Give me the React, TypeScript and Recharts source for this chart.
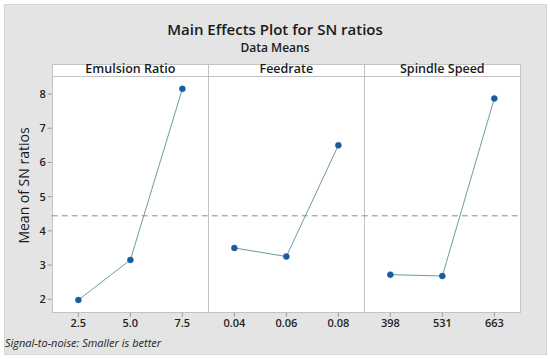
import { LineChart, Line, XAxis, YAxis, ReferenceLine } from "recharts"

const panels = ["Emulsion Ratio", "Feedrate", "Spindle Speed"]
const tickLabels = ["2.5", "5.0", "7.5", "0.04", "0.06", "0.08", "398", "531", "663"]
const emulsionRatio = [1.98, 3.15, 8.15]
const feedrate = [3.5, 3.25, 6.5]
const spindleSpeed = [2.72, 2.68, 7.87]
const overallMean = 4.44
const yTicks = [2, 3, 4, 5, 6, 7, 8]

const series = [emulsionRatio, feedrate, spindleSpeed].map((vals, p) =>
  vals.map((v, i) => ({ x: p * 3 + i, v }))
)

const W = 550
const H = 359
const plotLeft = 51.7
const plotRight = 521
const stripTop = 64
const plotTop = 75.7
const plotBottom = 312.7
const xDomain: [number, number] = [-0.513, 8.513]
const unit = (plotRight - plotLeft) / (xDomain[1] - xDomain[0])
const xPix = (x: number) => plotLeft + (x - xDomain[0]) * unit

const font = "'Open Sans', 'Noto Sans', sans-serif"
const frame = "#c3c3c3"
const pointColor = "#1b5c9e"
const lineColor = "#6f9aa3"

export default function App() {
  return (
    <div style={{ position: "fixed", left: 0, top: 0, width: W, height: H, background: "#fff", fontFamily: font }}>
      <div style={{ position: "absolute", left: 4, top: 4, width: 541, height: 349, background: "#e4e4e4", border: "1px solid #d6d6d6" }} />
      <div style={{ position: "absolute", left: 0, width: W, top: 21, lineHeight: "17px", textAlign: "center", fontSize: 15, fontWeight: 600, color: "#1a1a1a" }}>
        Main Effects Plot for SN ratios
      </div>
      <div style={{ position: "absolute", left: 0, width: W, top: 41, lineHeight: "14px", textAlign: "center", fontSize: 12, fontWeight: 600, color: "#1a1a1a" }}>
        Data Means
      </div>
      <div style={{ position: "absolute", left: plotLeft, top: stripTop, width: plotRight - plotLeft, height: plotBottom - stripTop, background: "#fff", boxSizing: "border-box", border: `1px solid ${frame}` }} />
      <div style={{ position: "absolute", left: plotLeft, top: plotTop, width: plotRight - plotLeft, height: 1, background: frame }} />
      {panels.map((name, p) => (
        <div key={name} style={{ position: "absolute", left: xPix(p * 3 - 0.5), width: unit * 3, top: stripTop - 1, height: plotTop - stripTop, textAlign: "center", fontSize: 12.5, fontWeight: 600, color: "#1a1a1a", lineHeight: `${plotTop - stripTop + 1}px` }}>
          {name}
        </div>
      ))}
      {[2.5, 5.5].map((d) => (
        <div key={d} style={{ position: "absolute", left: xPix(d) - 0.5, top: stripTop, width: 1, height: plotBottom - stripTop, background: frame }} />
      ))}
      <div style={{ position: "absolute", left: 8, top: 100, width: 30, height: 170, display: "flex", alignItems: "center", justifyContent: "center" }}>
        <div style={{ transform: "rotate(-90deg)", whiteSpace: "nowrap", fontSize: 14, color: "#1a1a1a" }}>Mean of SN ratios</div>
      </div>
      <div style={{ position: "absolute", left: 5, top: 336, lineHeight: "14px", fontSize: 11, fontStyle: "italic", color: "#222" }}>
        Signal-to-noise: Smaller is better
      </div>
      <div style={{ position: "absolute", left: 0, top: 0 }}>
        <LineChart width={W} height={H} margin={{ top: plotTop, left: plotLeft - 40, right: W - plotRight, bottom: H - plotBottom - 30 }}>
          <XAxis
            type="number"
            dataKey="x"
            domain={xDomain}
            ticks={tickLabels.map((_, i) => i)}
            tickFormatter={(i: number) => tickLabels[i]}
            allowDataOverflow
            height={30}
            axisLine={false}
            tickLine={{ stroke: "#999" }}
            tickSize={4}
            tick={{ fontSize: 11, fill: "#222", fontFamily: font, fontWeight: 600 }}
          />
          <YAxis
            type="number"
            domain={[1.608, 8.535]}
            ticks={yTicks}
            allowDataOverflow
            width={40}
            axisLine={false}
            tickLine={{ stroke: "#999" }}
            tickSize={4}
            tick={{ fontSize: 11, fill: "#222", fontFamily: font, fontWeight: 600 }}
          />
          <ReferenceLine y={overallMean} stroke="#8c8c8c" strokeDasharray="6 4" strokeWidth={1} />
          {series.map((data, p) => (
            <Line
              key={panels[p]}
              data={data}
              dataKey="v"
              type="linear"
              stroke={lineColor}
              strokeWidth={1}
              dot={{ r: 3, fill: pointColor, stroke: pointColor, strokeWidth: 0.5 }}
              isAnimationActive={false}
            />
          ))}
        </LineChart>
      </div>
    </div>
  )
}
